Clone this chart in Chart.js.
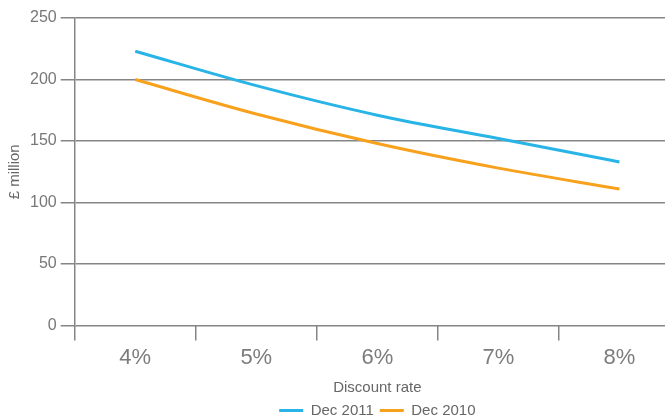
<!DOCTYPE html>
<html>
<head>
<meta charset="utf-8">
<script src="https://cdn.jsdelivr.net/npm/chart.js@4.4.1/dist/chart.umd.min.js"></script>
<style>
html,body{margin:0;padding:0;background:#fff;overflow:hidden}
#wrap{position:relative;width:700px;height:428px}
</style>
</head>
<body>
<div id="wrap"><canvas id="myChart"></canvas></div>
<script>
// values
const rates=['4%','5%','6%','7%','8%']
const dec2011=[223,195,171,152,133]
const dec2010=[200,172,148,128,111]
const yTicks=[0,50,100,150,200,250]

const grey='#858585'
const ctx=document.getElementById('myChart')
new Chart(ctx,{
  type:'line',
  data:{
    labels:rates,
    datasets:[
      {label:'Dec 2011',data:dec2011,borderColor:'#28b4e6',backgroundColor:'#28b4e6',borderWidth:3,pointRadius:0,cubicInterpolationMode:'monotone'},
      {label:'Dec 2010',data:dec2010,borderColor:'#f7a11c',backgroundColor:'#f7a11c',borderWidth:3,pointRadius:0,cubicInterpolationMode:'monotone'}
    ]
  },
  options:{
    responsive:true,
    maintainAspectRatio:false,
    animation:false,
    layout:{padding:{left:6,right:20,top:18,bottom:0}},
    plugins:{
      tooltip:{enabled:false},
      legend:{
        position:'bottom',
        fullSize:false,
        labels:{
          boxWidth:24,boxHeight:3,padding:6,color:'#666',
          font:{family:'Liberation Sans',size:15},
          generateLabels:(chart)=>Chart.defaults.plugins.legend.labels.generateLabels(chart).map(l=>({...l,lineWidth:0}))
        }
      }
    },
    scales:{
      x:{
        offset:true,
        grid:{offset:true,drawOnChartArea:false,drawTicks:true,tickLength:15,color:grey,lineWidth:1.5},
        border:{display:false},
        ticks:{color:'#7c7c7c',padding:4,font:{family:'Liberation Sans',size:22}},
        title:{display:true,text:'Discount rate',color:'#666',font:{family:'Liberation Sans',size:15},padding:{top:4,bottom:0}}
      },
      y:{
        min:0,max:250,
        afterBuildTicks:(axis)=>{axis.ticks=yTicks.map(v=>({value:v}))},
        grid:{color:grey,lineWidth:1.5,tickLength:14},
        border:{color:grey,width:1.5},
        ticks:{color:'#777',padding:4,font:{family:'Liberation Sans',size:16}},
        title:{display:true,text:'£ million',color:'#666',font:{family:'Liberation Sans',size:15},padding:{top:0,bottom:2}}
      }
    }
  }
})
</script>
</body>
</html>
